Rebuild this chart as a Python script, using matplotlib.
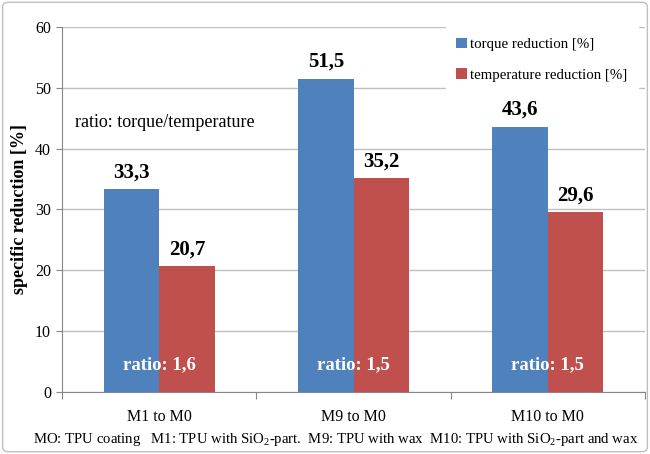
import matplotlib.pyplot as plt
import numpy as np
from matplotlib.patches import FancyBboxPatch

plt.rcParams['font.family'] = ['Liberation Serif', 'DejaVu Serif']
plt.rcParams['mathtext.fontset'] = 'custom'
plt.rcParams['mathtext.rm'] = 'Liberation Serif'

categories = ['M1 to M0', 'M9 to M0', 'M10 to M0']
torque = [33.3, 51.5, 43.6]
temperature = [20.7, 35.2, 29.6]
ratios = ['1,6', '1,5', '1,5']

blue = '#4f81bd'
red = '#c0504d'

fig = plt.figure(figsize=(6.5, 4.54), dpi=100)
fig.patches.append(FancyBboxPatch((0.004, 0.005), 0.992, 0.99, boxstyle='round,pad=0,rounding_size=0.01',
                                  transform=fig.transFigure, fill=False, edgecolor='#bfbfbf', lw=1))
ax = fig.add_axes([0.0954, 0.1366, 0.897, 0.804])

x = np.arange(len(categories))
w = 0.285
b1 = ax.bar(x - w / 2, torque, w, color=blue, label='torque reduction [%]', zorder=3)
b2 = ax.bar(x + w / 2, temperature, w, color=red, label='temperature reduction [%]', zorder=3)

for bars, vals in [(b1, torque), (b2, temperature)]:
    for r, v in zip(bars, vals):
        ax.text(r.get_x() + r.get_width() / 2, v + 1.1, f'{v:.1f}'.replace('.', ','),
                ha='center', va='bottom', fontsize=15, fontweight='bold')

for xi, rt in zip(x, ratios):
    ax.text(xi, 4.4, f'ratio: {rt}', ha='center', va='center', color='white',
            fontsize=13.5, fontweight='bold')

ax.text(0.022, 44.3, 'ratio: torque/temperature', transform=ax.get_yaxis_transform(),
        fontsize=13, va='center')

ax.set_xlim(-0.5, 2.5)
ax.set_ylim(0, 60)
ax.set_yticks(range(0, 61, 10))
ax.set_xticks([-0.5, 0.5, 1.5, 2.5], minor=False)
ax.set_xticklabels([])
ax.set_xticks(x, minor=True)
ax.set_xticklabels(categories, minor=True, fontsize=11.5)
ax.tick_params(axis='x', which='minor', length=0, pad=12)
ax.tick_params(axis='x', which='major', length=5, color='#868686', direction='out')
ax.tick_params(axis='y', length=4, color='#868686', labelsize=11.5, pad=4)
ax.grid(axis='y', color='#c0c0c0', lw=1, zorder=0)
for s in ['top', 'right']:
    ax.spines[s].set_visible(False)
for s in ['left', 'bottom']:
    ax.spines[s].set_color('#868686')
ax.set_ylabel('specific reduction [%]', fontsize=13, fontweight='bold', labelpad=5)

leg = ax.legend(loc='upper right', bbox_to_anchor=(1.0, 1.02), fontsize=10.75, frameon=True,
                handlelength=0.7, handleheight=0.7, handletextpad=0.2, labelspacing=1.15,
                borderpad=0.7, fancybox=False, framealpha=1)
leg.get_frame().set_edgecolor('white')
leg.set_zorder(5)

fig.text(0.516, 0.032, 'MO: TPU coating   M1: TPU with SiO$_2$-part.  M9: TPU with wax  M10: TPU with SiO$_2$-part and wax',
         ha='center', va='center', fontsize=10.6)

fig.savefig('out.png', dpi=100)
